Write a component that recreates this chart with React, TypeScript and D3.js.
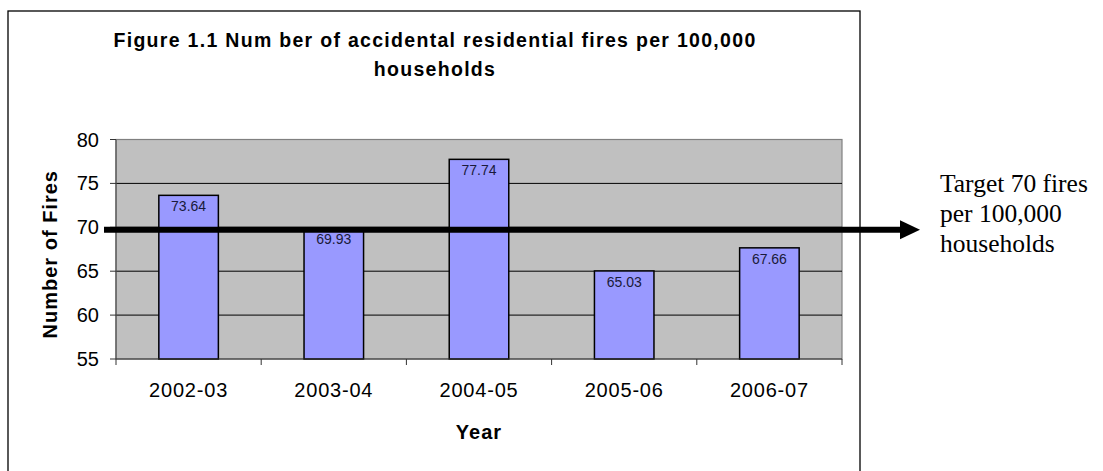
import React from "react";
import * as d3 from "d3";

const categories = ["2002-03", "2003-04", "2004-05", "2005-06", "2006-07"];
const values = [73.64, 69.93, 77.74, 65.03, 67.66];
const yTicks = [55, 60, 65, 70, 75, 80];
const target = 70;
const titleLines = ["Figure 1.1 Num ber of accidental residential fires per 100,000", "households"];
const targetLines = ["Target 70 fires", "per 100,000", "households"];

export default function App() {
  const W = 1103, H = 471;
  const plot = { left: 116, right: 842, top: 139.5, bottom: 359 };
  const x = d3.scaleBand<string>().domain(categories).range([plot.left, plot.right]).paddingInner(0.59).paddingOuter(0.295);
  const y = d3.scaleLinear().domain([55, 80]).range([plot.bottom, plot.top]);
  const step = x.step();
  const tickXs = d3.range(categories.length + 1).map((i) => plot.left + i * step);
  const arrowY = y(target) + 2.5;
  const sans = "'Liberation Sans', Arial, sans-serif";
  return (
    <svg width={W} height={H} style={{ position: "absolute", left: 0, top: 0, background: "#fff" }}>
      <rect x={8} y={11} width={852} height={480} fill="#fff" stroke="#000" strokeWidth={1.3} />
      {titleLines.map((t, i) => (
        <text key={i} x={435} y={47 + i * 29} textAnchor="middle" fontFamily={sans} fontWeight="bold" fontSize={19.5} style={{ letterSpacing: "1.3px" }}>{t}</text>
      ))}
      <rect x={plot.left} y={plot.top} width={plot.right - plot.left} height={plot.bottom - plot.top} fill="#c0c0c0" stroke="#808080" strokeWidth={1.2} />
      {yTicks.filter((v) => v !== 55 && v !== 80).map((v) => (
        <line key={v} x1={plot.left} x2={plot.right} y1={y(v)} y2={y(v)} stroke="#000" strokeWidth={1} />
      ))}
      {categories.map((c, i) => (
        <g key={c}>
          <rect x={x(c)} y={y(values[i])} width={x.bandwidth()} height={plot.bottom - y(values[i])} fill="#9999ff" stroke="#000" strokeWidth={1.5} />
          <text x={(x(c) as number) + x.bandwidth() / 2} y={y(values[i]) + 16} textAnchor="middle" fontFamily={sans} fontSize={14} fill="#1a1a3a">{values[i].toFixed(2)}</text>
        </g>
      ))}
      <line x1={plot.left} x2={plot.left} y1={plot.top} y2={plot.bottom} stroke="#555" strokeWidth={1.2} />
      <line x1={plot.left} x2={plot.right} y1={plot.bottom} y2={plot.bottom} stroke="#333" strokeWidth={1.2} />
      {yTicks.map((v) => (
        <g key={v}>
          <line x1={plot.left - 6} x2={plot.left} y1={y(v)} y2={y(v)} stroke="#333" />
          <text x={99} y={y(v) + 7} textAnchor="end" fontFamily={sans} fontSize={20}>{v}</text>
        </g>
      ))}
      {tickXs.map((tx, i) => (
        <line key={i} x1={tx} x2={tx} y1={plot.bottom} y2={plot.bottom + 6} stroke="#333" />
      ))}
      {categories.map((c) => (
        <text key={c} x={(x(c) as number) + x.bandwidth() / 2} y={397} textAnchor="middle" fontFamily={sans} fontSize={20} style={{ letterSpacing: "0.8px" }}>{c}</text>
      ))}
      <text x={479} y={439} textAnchor="middle" fontFamily={sans} fontWeight="bold" fontSize={20} style={{ letterSpacing: "1px" }}>Year</text>
      <text transform={`translate(57,${(plot.top + plot.bottom) / 2 + 5}) rotate(-90)`} textAnchor="middle" fontFamily={sans} fontWeight="bold" fontSize={20} style={{ letterSpacing: "1px" }}>Number of Fires</text>
      <line x1={104} x2={902} y1={arrowY} y2={arrowY} stroke="#000" strokeWidth={6} />
      <path d={`M900,${arrowY - 9.5} L920,${arrowY} L900,${arrowY + 9.5} Z`} fill="#000" />
      {targetLines.map((t, i) => (
        <text key={i} x={940} y={192 + i * 30} fontFamily="'Liberation Serif', 'Times New Roman', serif" fontSize={25.5}>{t}</text>
      ))}
    </svg>
  );
}
